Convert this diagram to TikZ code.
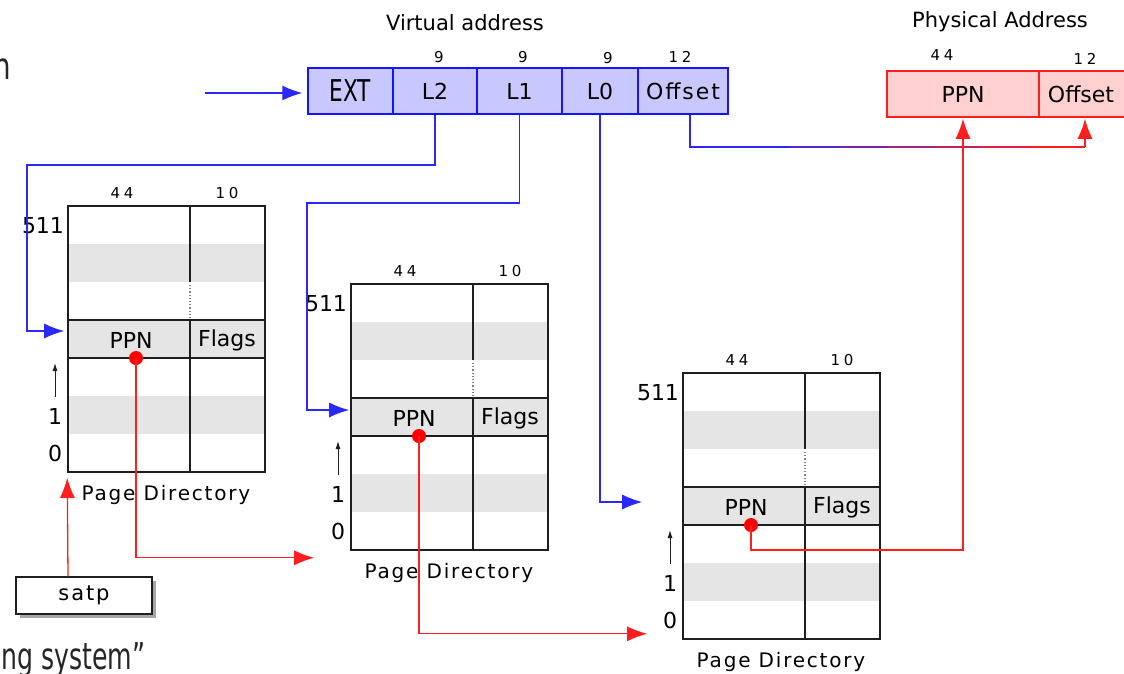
\documentclass[tikz,border=0pt]{standalone}
\usepackage{fontspec}
\usepackage{graphicx}
\setmainfont{DejaVu Sans}
\newfontfamily\spacedfont[LetterSpace=9]{DejaVu Sans}
\newfontfamily\widefont[LetterSpace=25]{DejaVu Sans}
\usetikzlibrary{arrows.meta,calc,shadows}
\definecolor{vfill}{RGB}{200,200,255}
\definecolor{vline}{RGB}{20,20,255}
\definecolor{pfill}{RGB}{255,208,208}
\definecolor{pline}{RGB}{255,30,30}
\definecolor{rowgray}{RGB}{229,229,229}
\definecolor{tblack}{RGB}{30,30,30}
\definecolor{cblue}{RGB}{40,40,255}
\definecolor{cred}{RGB}{255,30,30}
\tikzset{
  vcell/.style={draw=vline, fill=vfill, line width=1.5pt, minimum height=46pt, inner sep=0pt, font=\fontsize{22}{26}\selectfont},
  pcell/.style={draw=pline, fill=pfill, line width=1.5pt, minimum height=46pt, inner sep=0pt, font=\fontsize{22}{26}\selectfont},
  bits/.style={inner sep=0pt, font=\widefont\fontsize{15}{17}\selectfont},
  titletext/.style={inner sep=0pt, font=\fontsize{21}{25}\selectfont},
  idx/.style={inner sep=0pt, font=\fontsize{22}{26}\selectfont},
  celltext/.style={inner sep=0pt, font=\fontsize{22}{26}\selectfont},
  caption/.style={inner sep=0pt, font=\spacedfont\fontsize{20}{24}\selectfont},
  tablebox/.style={draw=tblack, line width=1.6pt, minimum width=197pt, minimum height=266pt, inner sep=0pt},
  ppnrow/.style={draw=tblack, fill=rowgray, line width=1.6pt, minimum width=197pt, minimum height=38pt, inner sep=0pt},
  tableline/.style={draw=tblack, line width=1.6pt},
  dotline/.style={draw=gray, line width=1.2pt, dotted},
  uparrow/.style={draw=tblack, line width=0.9pt, -{Latex[length=8pt,width=5pt]}},
  reddot/.style={circle, fill=red, minimum size=14pt, inner sep=0pt},
  bluearrow/.style={draw=cblue, line width=1.3pt, -{Latex[length=20pt,width=15pt]}},
  blueline/.style={draw=cblue, line width=1.3pt},
  redarrow/.style={draw=cred, line width=1.3pt, -{Latex[length=20pt,width=15pt]}},
  regbox/.style={draw=tblack, fill=white, line width=1.4pt, minimum width=136pt, minimum height=37pt, inner sep=0pt,
     drop shadow={shadow xshift=4pt, shadow yshift=-4pt, opacity=0.35, fill=black}, font=\spacedfont\fontsize{21}{25}\selectfont},
  slidetext/.style={inner sep=0pt, font=\fontsize{37}{44}\selectfont, text=black!85}
}
\newcommand{\pagedir}[3]{%
\begin{scope}[shift={(#2,#3)}]
  \fill[rowgray] (0,38) rectangle (197,76);
  \fill[rowgray] (0,190) rectangle (197,228);
  \node[ppnrow] (#1-row) at (98.5,133) {};
  \draw[tableline] (122,0) -- (122,76);
  \draw[dotline] (122,79) -- (122,113);
  \draw[tableline] (122,114) -- (122,266);
  \node[tablebox] (#1) at (98.5,133) {};
  \node[celltext] (#1-ppn) at (63,134) {PPN};
  \node[celltext] (#1-flags) at (159,134) {Flags};
  \node[bits] (#1-b44) at (54,-13) {44};
  \node[bits] (#1-b10) at (159,-13) {10};
  \node[idx] (#1-511) at (-25,20) {511};
  \node[idx] (#1-i1) at (-13,210) {1};
  \node[idx] (#1-i0) at (-13,247) {0};
  \coordinate (#1-up0) at (-13,191);
  \coordinate (#1-up1) at (-13,157);
  \draw[uparrow] (#1-up0) -- (#1-up1);
  \node[caption] (#1-cap) at (98,289) {Page Directory};
  \node[reddot] (#1-dot) at (68,152) {};
\end{scope}}
\begin{document}
\begin{tikzpicture}[x=1pt,y=-1pt]
\useasboundingbox (0,0) rectangle (1124,673);

% slide fragments
\node[slidetext, anchor=base east] (hfrag) at (11,79) {\scalebox{0.75}[1]{h}};
\node[slidetext, anchor=base west] (sysfrag) at (1,669) {\scalebox{0.68}[1]{ng system”}};

% virtual address
\node[titletext] (vtitle) at (465,23) {Virtual address};
\node[vcell, minimum width=85pt] (ext) at (350.5,91) {\fontsize{30}{34}\selectfont\scalebox{0.72}[1]{EXT}};
\node[vcell, minimum width=84pt] (l2) at (435,91) {L2};
\node[vcell, minimum width=85pt] (l1) at (519.5,91) {L1};
\node[vcell, minimum width=76pt] (l0) at (600,91) {L0};
\node[vcell, minimum width=90pt] (voff) at (683,91) {\spacedfont Offset};
\node[bits] (b9a) at (439,57) {9};
\node[bits] (b9b) at (523,57) {9};
\node[bits] (b9c) at (608,58) {9};
\node[bits] (b12v) at (680,57) {12};

% physical address
\node[titletext] (ptitle) at (1000,22) {Physical Address};
\node[pcell, minimum width=152pt] (pppn) at (963,94) {PPN};
\node[pcell, minimum width=92pt] (poff) at (1085,94) {\hspace*{-8pt}Offset};
\node[bits] (b44p) at (942,55) {44};
\node[bits] (b12p) at (1085,59) {12};

% page directories
\pagedir{pdA}{68}{206}
\pagedir{pdB}{351}{284}
\pagedir{pdC}{683}{373}

% satp
\node[regbox] (satp) at (84,595.5) {satp};

% blue connectors
\coordinate (vin) at (205,93);
\draw[bluearrow, shorten >=5pt] (vin) -- (vin -| ext.west);
\coordinate (c2) at (27,165);
\draw[bluearrow, shorten >=3pt] (l2.south) |- (c2) |- ([yshift=8pt]pdA-row.west);
\coordinate (c3) at (307,203);
\draw[bluearrow, shorten >=1pt] (l1.south) |- (c3) |- ([yshift=7pt]pdB-row.west);
\draw[bluearrow] (l0.south) |- ([xshift=-40pt,yshift=4pt]pdC-row.west);

% offset connector (blue fading to red)
\coordinate (o1) at (690,147);
\coordinate (o2) at (1085,147);
\draw[blueline] ([xshift=7pt]voff.south) -- (o1) -- ($(o1)!0.25!(o2)$);
\foreach \a/\b/\c in {0.25/0.38/80, 0.38/0.5/62, 0.5/0.62/45, 0.62/0.74/28, 0.74/0.86/12}{
  \draw[line width=1.3pt, draw=cblue!\c!cred] ($(o1)!\a!(o2)$) -- ($(o1)!\b!(o2)$);
}
\draw[line width=1.3pt, draw=cred] ($(o1)!0.86!(o2)$) -- (o2);
\draw[redarrow, shorten >=1pt] (o2) -- (poff.south);

% red connectors
\draw[redarrow, shorten >=5pt] ([xshift=-16pt]satp.north) -- (pdA.south west);
\draw[redarrow] (pdA-dot.center) |- ([xshift=-36pt,yshift=-7pt]pdB.south west);
\draw[redarrow] (pdB-dot.center) |- ([xshift=-35pt,yshift=6pt]pdC.south west);
\coordinate (r3) at (963,550);
\draw[redarrow, shorten >=1pt] (pdC-dot.center) |- (r3) -- (pppn.south);
\end{tikzpicture}
\end{document}
